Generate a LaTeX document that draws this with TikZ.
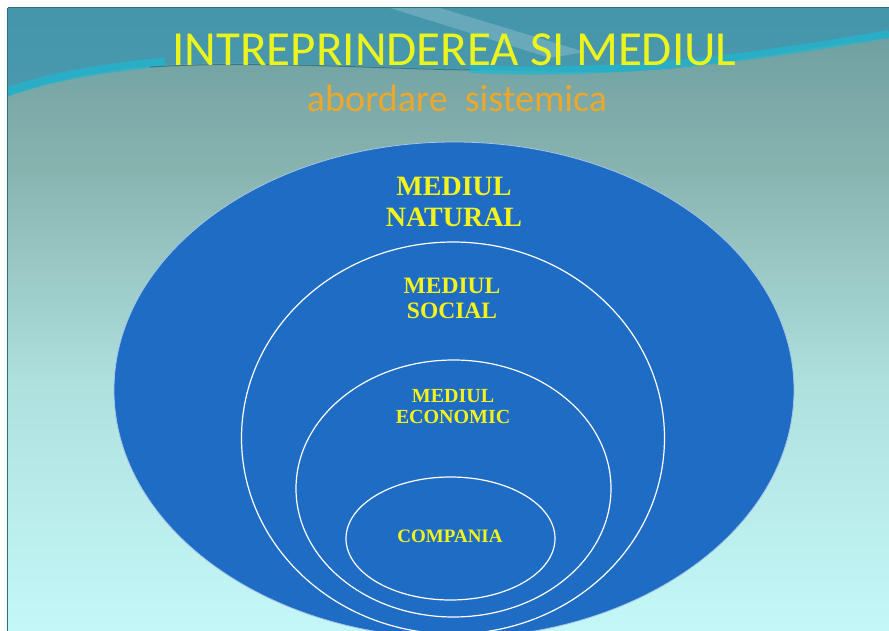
\documentclass[tikz,border=0pt]{standalone}
\usepackage{fontspec}
\usepackage{xcolor}
\usepackage{tikz}
\usetikzlibrary{shapes.geometric,positioning}
\newfontfamily\titlefont{Carlito}
\newfontfamily\labelfont{Liberation Serif}
\definecolor{slideblue}{HTML}{1F6CC4}
\definecolor{titleyellow}{HTML}{ECF41E}
\definecolor{subtitleorange}{HTML}{ECA82A}
\definecolor{labelyellow}{HTML}{F4F41C}
\definecolor{bgtop}{HTML}{6A9C9E}
\definecolor{bgupper}{HTML}{88B4B0}
\definecolor{bgmid}{HTML}{AEE0DE}
\definecolor{bgbottom}{HTML}{C4F8F8}
\definecolor{bandteal}{HTML}{3A94B0}
\definecolor{bandcyan}{HTML}{1EB8D0}
\definecolor{banddark}{HTML}{2A6E80}
\pgfdeclareverticalshading{slidebg}{100bp}{color(0bp)=(bgbottom); color(25bp)=(bgbottom); color(45bp)=(bgmid); color(62bp)=(bgupper); color(75bp)=(bgtop); color(100bp)=(bgtop)}

\begin{document}
\begin{tikzpicture}[x=1pt, y=-1pt]
      \useasboundingbox (0,0) rectangle (889,631);
      \fill[white] (0,0) rectangle (889,631);

      \begin{scope}
          \clip (8,8) rectangle (889,631);
          \shade[shading=slidebg] (8,8) rectangle (889,631);
          \fill[bandteal, opacity=0.75] (8,8) -- (889,8) -- (889,38)
              .. controls (780,50) and (700,72) .. (600,72)
              .. controls (450,72) and (250,58) .. (150,66)
              .. controls (90,72) and (40,84) .. (8,96) -- cycle;
          \fill[white, opacity=0.18] (390,8) -- (440,8) -- (585,52) -- (550,58) -- cycle;
          \draw[bandcyan, line width=9, opacity=0.7] (8,92) .. controls (40,80) and (90,69) .. (165,62);
          \draw[banddark, line width=1, opacity=0.8] (150,67) .. controls (260,60) and (400,70) .. (480,70);
          \draw[bandcyan, line width=8, opacity=0.7] (470,69) .. controls (620,76) and (750,58) .. (889,34);

          \begin{scope}[every node/.style={ellipse, inner sep=0, draw=white, line width=1.2}]
              \node[fill=slideblue, draw=white!60!slideblue, line width=0.8,
                    minimum width=680, minimum height=496] (E1) at (454,390) {};
              \node[minimum width=423, minimum height=392] (E2) at (453,438) {};
              \node[minimum width=315, minimum height=257] (E3) at (453.5,488.5) {};
              \node[minimum width=209, minimum height=123] (E4) at (450.5,538.5) {};
          \end{scope}
      \end{scope}
      \draw[banddark, line width=1] (7.5,8) -- (7.5,631);
      \draw[banddark, line width=1] (7.5,8) -- (889,8);

      \node[anchor=base, text=titleyellow, font=\titlefont\fontsize{49}{58}\selectfont] (T) at (454.5,66) {INTREPRINDEREA SI MEDIUL};
      \node[anchor=base, text=subtitleorange, font=\titlefont\fontsize{38}{44}\selectfont] (S) at (457,112) {abordare\ \ sistemica};

      \begin{scope}[every node/.style={text=labelyellow, align=center, inner sep=0}]
          \node[font=\labelfont\bfseries\fontsize{28}{31}\selectfont] (L1) at (454,201.5) {MEDIUL\\NATURAL};
          \node[font=\labelfont\bfseries\fontsize{23.5}{25}\selectfont] (L2) at (452,298.5) {MEDIUL\\SOCIAL};
          \node[font=\labelfont\bfseries\fontsize{20}{21}\selectfont] (L3) at (453,407) {MEDIUL\\ECONOMIC};
          \node[anchor=base, font=\labelfont\bfseries\fontsize{19}{22}\selectfont] (L4) at (450,542) {COMPANIA};
      \end{scope}
\end{tikzpicture}
\end{document}
